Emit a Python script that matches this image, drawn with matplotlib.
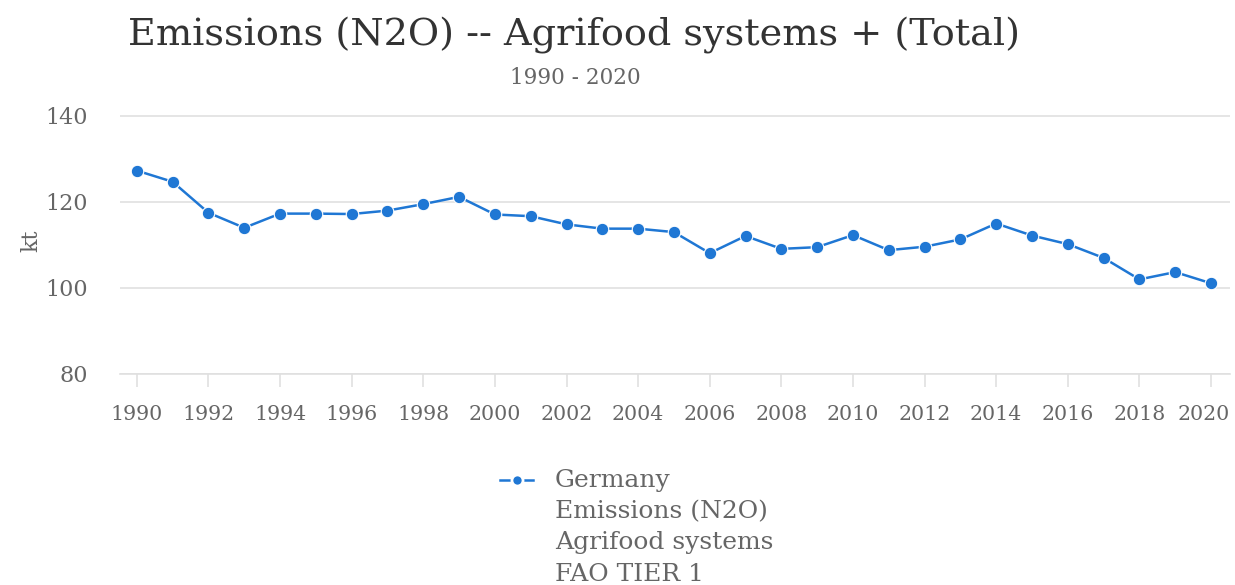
import matplotlib.pyplot as plt
import matplotlib.transforms as mtransforms
from matplotlib.lines import Line2D

years = list(range(1990, 2021))
emissions = [127.3, 124.7, 117.5, 114.0, 117.3, 117.3, 117.2, 118.0, 119.5, 121.2,
             117.1, 116.7, 114.8, 113.8, 113.8, 113.0, 108.1, 112.1, 109.1, 109.5,
             112.3, 108.8, 109.6, 111.3, 115.0, 112.2, 110.2, 107.0, 102.0, 103.7,
             101.1]
y_ticks = [80, 100, 120, 140]
x_ticks = list(range(1990, 2021, 2))
legend_lines = ["Germany", "Emissions (N2O)", "Agrifood systems", "FAO TIER 1"]

blue = '#1f77d4'
grey = '#666666'

plt.rcParams['font.family'] = 'DejaVu Serif'

fig = plt.figure(figsize=(12.35, 5.85), dpi=100)
ax = fig.add_axes([120 / 1235, 1 - 374 / 585, 1110 / 1235, (374 - 107.4) / 585])

ax.plot(years, emissions, color=blue, linewidth=1.8, marker='o', markersize=9,
        markerfacecolor=blue, markeredgecolor='white', markeredgewidth=0.8)

ax.set_xlim(1989.53, 2020.53)
ax.set_ylim(80, 142)
ax.set_yticks(y_ticks)
ax.set_xticks(x_ticks)
ax.grid(axis='y', color='#e0e0e0', linewidth=1.2)
ax.set_axisbelow(True)

for s in ['top', 'right', 'left']:
    ax.spines[s].set_visible(False)
ax.spines['bottom'].set_color('#e0e0e0')
ax.spines['bottom'].set_linewidth(1.2)

ax.tick_params(axis='y', length=0, pad=23, labelsize=16, labelcolor=grey)
ax.tick_params(axis='x', length=9.5, width=1.2, color='#e0e0e0', pad=13,
               labelsize=14.8, labelcolor=grey)
ax.set_ylabel('kt', fontsize=16, color=grey, labelpad=2)

# nudge the last year label left so it stays inside the figure
last = ax.get_xticklabels()[-1]
last.set_transform(last.get_transform() +
                   mtransforms.ScaledTranslation(-7 / 100, 0, fig.dpi_scale_trans))

fig.text(574 / 1235, 1 - 35 / 585, 'Emissions (N2O) -- Agrifood systems + (Total)',
         ha='center', va='center', fontsize=27.5, color='#333333')
fig.text(575 / 1235, 1 - 78 / 585, '1990 - 2020', ha='center', va='center',
         fontsize=15.5, color=grey)

# legend: marker handle + four lines of text
fig.add_artist(Line2D([500 / 1235, 533 / 1235], [1 - 480 / 585] * 2,
                      color=blue, linewidth=1.8))
fig.add_artist(Line2D([517 / 1235], [1 - 480 / 585], color=blue, marker='o',
                      markersize=8, markeredgecolor='white', markeredgewidth=2))
for i, line in enumerate(legend_lines):
    fig.text(555 / 1235, 1 - (480 + 31.5 * i) / 585, line, ha='left', va='center',
             fontsize=18, color=grey)

plt.savefig('out.png', dpi=100)
